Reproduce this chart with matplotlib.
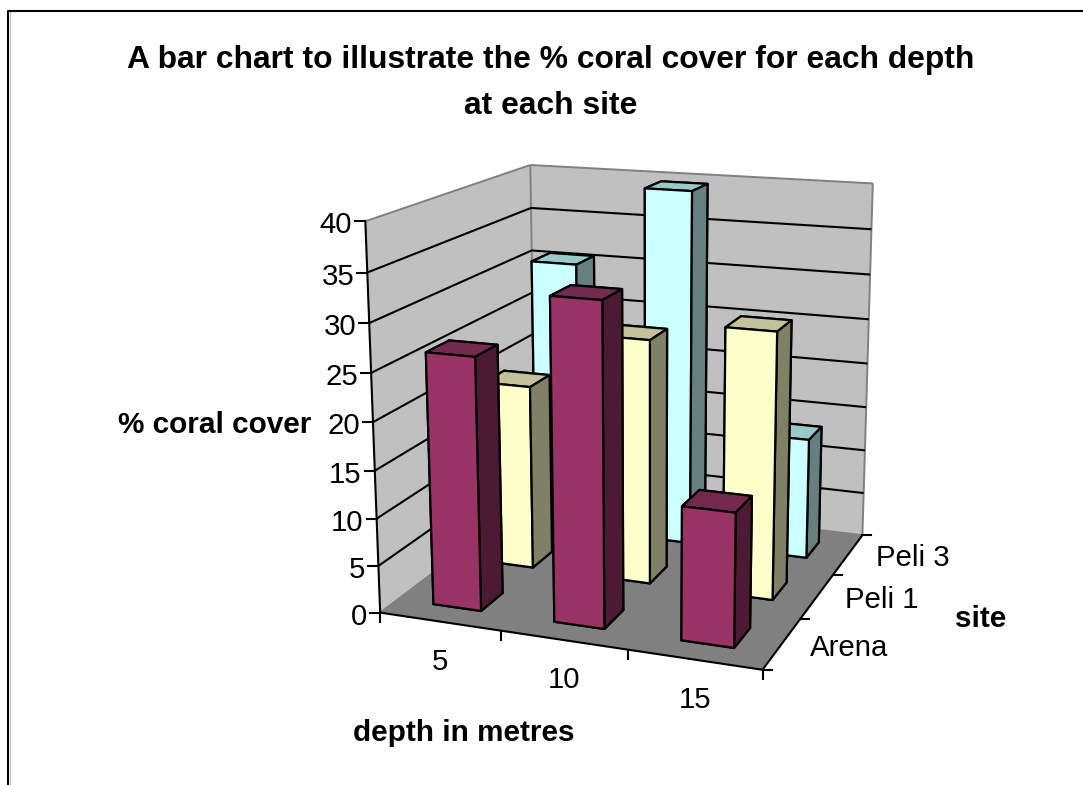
import numpy as np
import matplotlib
matplotlib.use("Agg")
import matplotlib.pyplot as plt
from mpl_toolkits.mplot3d.art3d import Poly3DCollection, Line3DCollection

plt.rcParams['font.family'] = ['Liberation Sans', 'DejaVu Sans']

W, H = 1083, 785

# ---- data ----
depth_labels = ['5', '10', '15']
site_labels = ['Arena', 'Peli 1', 'Peli 3']
arena = [26.5, 33.2, 13.7]
peli1 = [20.1, 26.3, 28.3]
peli3 = [30.7, 39.6, 13.4]
series = [arena, peli1, peli3]
z_ticks = [0, 5, 10, 15, 20, 25, 30, 35, 40]
title = 'A bar chart to illustrate the % coral cover for each depth\nat each site'
z_title = '% coral cover'
x_title = 'depth in metres'
y_title = 'site'

face_colors = [('#993366', '#742A4E', '#4D1A33'),
               ('#FFFFCC', '#C2C29B', '#808066'),
               ('#CCFFFF', '#99C9C9', '#668080')]
Z_MAX = z_ticks[-1]
N_X, N_Y = len(depth_labels), len(site_labels)

# ---- camera: calibrated from the box corners as seen in the figure ----
calib = [((0, 0, 0), (380.7, 613.3)), ((0, 0, Z_MAX), (365.0, 221.0)),
         ((0, N_Y, 0), (535.0, 495.0)), ((0, N_Y, Z_MAX), (530.7, 165.3)),
         ((N_X, N_Y, 0), (862.7, 535.7)), ((N_X, N_Y, Z_MAX), (872.7, 183.3)),
         ((N_X, 0, 0), (762.3, 669.3))]
rows = []
for (X, Y, Z), (u, v) in calib:
    rows.append([X, Y, Z, 1, 0, 0, 0, 0, -u*X, -u*Y, -u*Z, -u])
    rows.append([0, 0, 0, 0, X, Y, Z, 1, -v*X, -v*Y, -v*Z, -v])
P = np.linalg.svd(np.array(rows))[2][-1].reshape(3, 4)
if P[2, 3] < 0:
    P = -P


def pix(x, y, z):
    q = P @ np.array([x, y, z, 1.0])
    return q[0]/q[2], q[1]/q[2]


fig = plt.figure(figsize=(W/100, H/100), dpi=100, facecolor='white')
ax = fig.add_axes([0, (H-W)/2/H, 1, W/H], projection='3d', computed_zorder=False)
ax.set_axis_off()
ax.patch.set_visible(False)


def get_proj():
    A = ax.transData.inverted().get_matrix()
    flip = np.array([[1, 0, 0], [0, -1, H], [0, 0, 1.0]])
    Q = A @ flip @ P
    depth = np.array([-1.0, 1.0, -0.01, 0.0])
    return np.vstack([Q[0], Q[1], depth, Q[2]])


ax.get_proj = get_proj

# walls and floor
wall_kw = dict(edgecolor='none', linewidth=0, zorder=0.5)
ax.add_collection3d(Poly3DCollection(
    [[(0, 0, 0), (0, N_Y, 0), (0, N_Y, Z_MAX), (0, 0, Z_MAX)],
     [(0, N_Y, 0), (N_X, N_Y, 0), (N_X, N_Y, Z_MAX), (0, N_Y, Z_MAX)]],
    facecolors='#C0C0C0', **wall_kw))
ax.add_collection3d(Poly3DCollection(
    [[(0, 0, 0), (N_X, 0, 0), (N_X, N_Y, 0), (0, N_Y, 0)]],
    facecolors='#808080', **wall_kw))

grey_segs = [[(0, 0, Z_MAX), (0, N_Y, Z_MAX)],
             [(0, N_Y, Z_MAX), (N_X, N_Y, Z_MAX)],
             [(0, N_Y, 0), (0, N_Y, Z_MAX)],
             [(N_X, N_Y, 0), (N_X, N_Y, Z_MAX)],
             [(0, 0, 0), (0, N_Y, 0)],
             [(0, N_Y, 0), (N_X, N_Y, 0)]]
ax.add_collection3d(Line3DCollection(grey_segs, colors='#808080', linewidths=1.4, zorder=2))

black_segs = [[(0, 0, 0), (0, 0, Z_MAX)],
              [(0, 0, 0), (N_X, 0, 0)],
              [(N_X, 0, 0), (N_X, N_Y, 0)]]
for zt in z_ticks[1:-1]:
    black_segs.append([(0, 0, zt), (0, N_Y, zt)])
    black_segs.append([(0, N_Y, zt), (N_X, N_Y, zt)])
ax.add_collection3d(Line3DCollection(black_segs, colors='black', linewidths=1.5, zorder=3))

# bars, back row first
width = 0.40
zo = 10
for iy in range(N_Y-1, -1, -1):
    front, top, side = face_colors[iy]
    # order of bar3d faces: -z, +z, -y, +y, -x, +x
    cols = [front, top, front, front, front, side]
    for ix in range(N_X):
        ax.bar3d(ix+0.5-width/2, iy+0.5-width/2, 0, width, width, series[iy][ix],
                 color=cols, shade=False, edgecolor='black', linewidth=1.6,
                 zorder=zo)
        zo += 1

# overlay in pixel coordinates for frame, ticks and text
ov = fig.add_axes([0, 0, 1, 1], zorder=50)
ov.set_xlim(0, W)
ov.set_ylim(H, 0)
ov.set_axis_off()
ov.patch.set_visible(False)

ov.plot([9.5, 9.5], [H, 12], color='#C0C0C0', lw=0.8)
ov.plot([8, 8, W], [H, 11, 11], color='black', lw=1.5)

FS = 21.2
tick_kw = dict(color='black', lw=1.5)
for zt in z_ticks:
    u, v = pix(0, 0, zt)
    ov.plot([u-10, u], [v, v], **tick_kw)
    ov.text(u-13, v+4, str(zt), ha='right', va='center', fontsize=FS)
for i in range(N_X+1):
    u, v = pix(i, 0, 0)
    ov.plot([u, u], [v, v+9], **tick_kw)
for i, lab in enumerate(depth_labels):
    u, v = pix(i+0.5, 0, 0)
    ov.text(u, v+40, lab, ha='center', va='center', fontsize=FS)
for i in range(N_Y+1):
    u, v = pix(N_X, i, 0)
    ov.plot([u, u+9], [v, v], **tick_kw)
for i, lab in enumerate(site_labels):
    u, v = pix(N_X, i+0.5, 0)
    ov.text(u+28, v+4, lab, ha='left', va='center', fontsize=FS)

bold = dict(fontweight='bold', fontsize=21.4, ha='center', va='center')
ov.text(551, 83, title, linespacing=1.68, **{**bold, 'fontsize': 22.9})
ov.text(215, 425, z_title, **bold)
ov.text(464, 733, x_title, **bold)
ov.text(981, 619, y_title, **bold)

fig.savefig('out.png', dpi=100)
